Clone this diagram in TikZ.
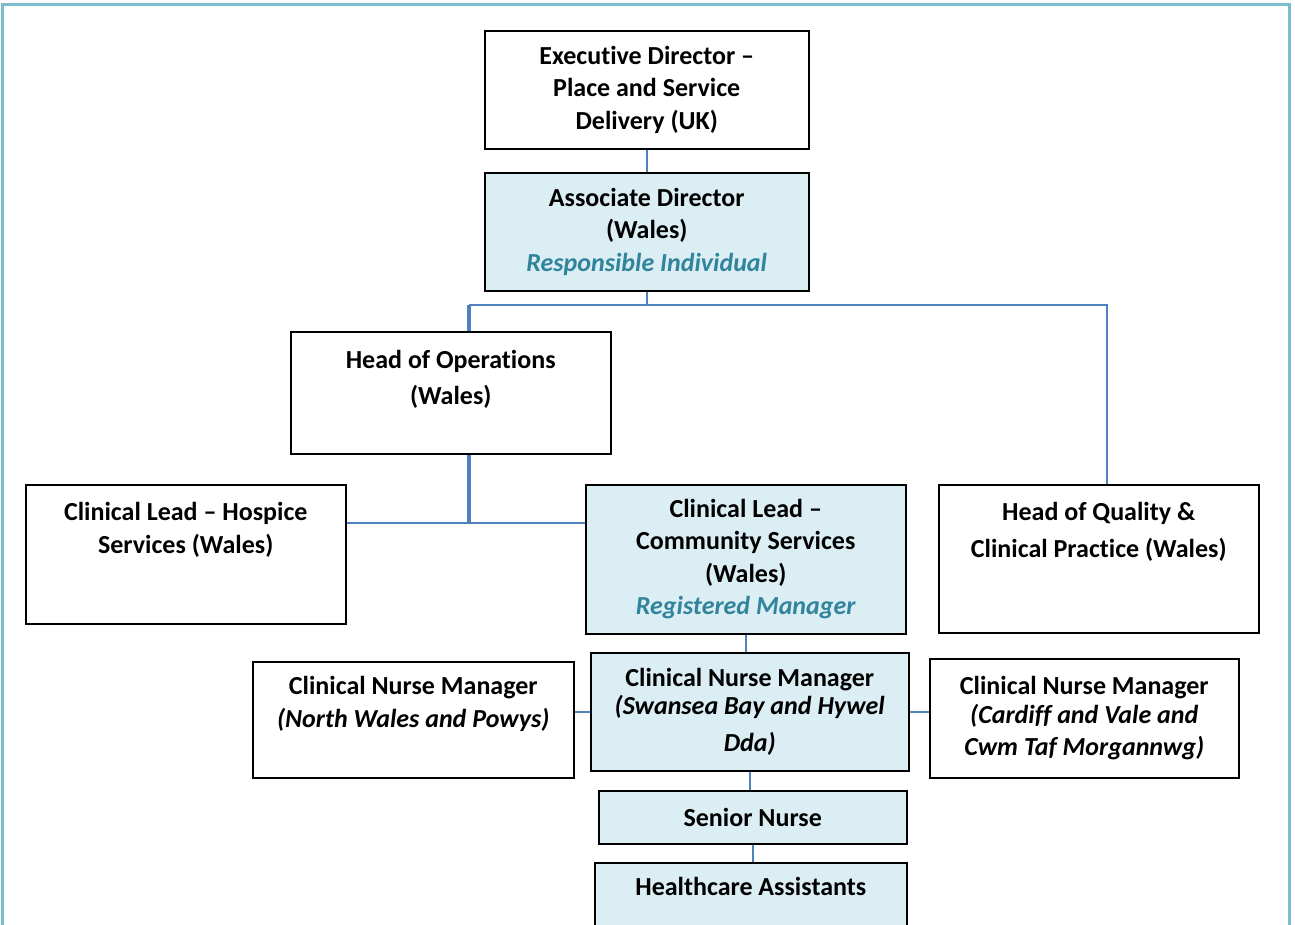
\documentclass[tikz,border=0pt]{standalone}
\usepackage{fontspec}
\setmainfont{Carlito}[Ligatures={TeX,NoCommon}]
\usetikzlibrary{positioning}

\definecolor{framecol}{RGB}{122,190,206}
\definecolor{linkcol}{RGB}{79,129,189}
\definecolor{panelcol}{RGB}{219,238,244}
\definecolor{roletext}{RGB}{49,132,155}

\newcommand{\midtext}[3]{\parbox[c][#2][c]{#1}{\centering #3\par}}
\newcommand{\toptext}[4][35pt]{\parbox[c][#3][t]{#2}{\centering\rule{0pt}{#1}#4\par}}
\newcommand{\role}[1]{{\color{roletext}\itshape #1}}

\begin{document}
\begin{tikzpicture}[x=1pt, y=-1pt,
  block/.style={draw=black, line width=1.5pt, inner sep=0pt, anchor=north west, font=\fontsize{26}{32.5}\selectfont\bfseries},
  panel/.style={block, fill=panelcol},
  link/.style={draw=linkcol, line width=1.8pt},
  trunk/.style={link, line width=4pt}]

  \useasboundingbox (0,0) rectangle (1295,924);

  % Outer frame
  \draw[framecol, line width=3pt] (2.5,930) -- (2.5,4.5) -- (1289.5,4.5) -- (1289.5,930);

  % Directors
  \node[block] (exec) at (484,30) {\midtext{324pt}{118pt}{Executive Director --\\Place and Service\\Delivery (UK)}};
  \node[panel] (assoc) at (484,172) {\midtext{324pt}{118pt}{Associate Director\\(Wales)\\\role{Responsible Individual}}};

  % Second row
  \node[block] (ops) at (290,331) {\toptext[37pt]{320pt}{122pt}{Head of Operations\\[3.5pt](Wales)}};

  % Third row
  \node[block] (hospice) at (25,484) {\toptext[36pt]{320pt}{139pt}{Clinical Lead -- Hospice\\Services (Wales)}};
  \node[panel] (community) at (585,484) {\midtext{320pt}{149pt}{Clinical Lead --\\Community Services\\(Wales)\\\role{Registered Manager}}};
  \node[block] (quality) at (938,484) {\toptext[36pt]{320pt}{148pt}{Head of Quality \&\\[4.5pt]Clinical Practice (Wales)}};

  % Clinical nurse managers
  \node[block] (cnmN) at (252,661) {\toptext[33pt]{321pt}{116pt}{Clinical Nurse Manager\\\textit{(North Wales and Powys)}}};
  \node[panel] (cnmS) at (590,652) {\midtext{318pt}{118pt}{Clinical Nurse Manager\\[-4pt]\textit{(Swansea Bay and Hywel}\\[4.5pt]\textit{Dda)}}};
  \node[block] (cnmC) at (929,658) {\midtext{309pt}{119pt}{Clinical Nurse Manager\\[-3.5pt]\textit{(Cardiff and Vale and}\\\textit{Cwm Taf Morgannwg)}}};

  % Bottom boxes
  \node[panel] (senior) at (598,790) {\midtext{308pt}{53pt}{Senior Nurse}};
  \node[panel] (hca) at (594,862) {\toptext[33pt]{312pt}{80pt}{Healthcare Assistants}};

  % Joins
  \coordinate (opsjoin) at (469,305);
  \coordinate (qualjoin) at (1107,305);
  \coordinate (leadjoin) at (469,523);

  % Vertical links
  \draw[link] (exec.south) -- (assoc.north);
  \draw[link] (assoc.south) -- (assoc.south |- opsjoin);
  \draw[link] (opsjoin) -- (qualjoin) -- (qualjoin |- quality.north);
  \draw[trunk] (opsjoin) -- (opsjoin |- ops.north);
  \draw[trunk] (opsjoin |- ops.south) -- (leadjoin);
  \draw[link] (community.south) -- (community.south |- cnmS.north);
  \draw[link] (cnmS.south) -- (cnmS.south |- senior.north);
  \draw[link] (senior.south) -- (senior.south |- hca.north);

  % Horizontal links
  \draw[link] (hospice.east |- leadjoin) -- (community.west |- leadjoin);
  \draw[link] (cnmS.west) -- (cnmS.west -| cnmN.east);
  \draw[link] (cnmS.east) -- (cnmS.east -| cnmC.west);

\end{tikzpicture}
\end{document}
